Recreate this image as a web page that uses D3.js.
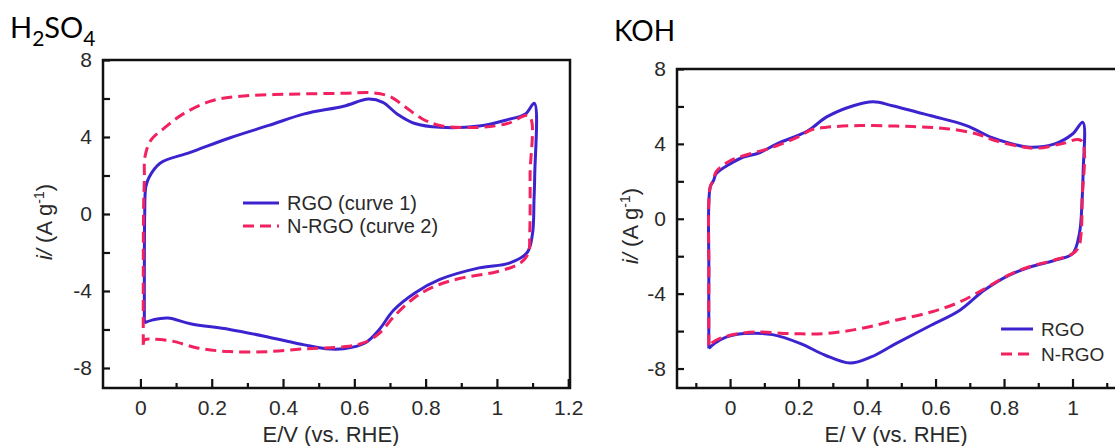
<!DOCTYPE html>
<html>
<head>
<meta charset="utf-8">
<script src="https://cdn.jsdelivr.net/npm/d3@7"></script>
<style>
  html, body { margin: 0; padding: 0; background: #fff; }
  svg { display: block; }
  .tick text { font-family: "Liberation Sans", Arial, sans-serif; fill: #2a2a2a; }
</style>
</head>
<body>
<svg id="chart" width="1115" height="446"></svg>
<script>
// ---------------- DATA ----------------
// H2SO4 panel: RGO (curve 1)
const h2so4RgoE = [0.011, 0.011, 0.012, 0.015, 0.024, 0.056, 0.14, 0.25, 0.36, 0.46, 0.57, 0.64, 0.68, 0.72, 0.77, 0.84, 0.95, 1.03, 1.08, 1.105, 1.106, 1.104, 1.10, 1.085, 1.035, 0.95, 0.84, 0.77, 0.71, 0.67, 0.63, 0.57, 0.52, 0.46, 0.36, 0.25, 0.14, 0.077, 0.035, 0.011];
const h2so4RgoI = [-5.66, -3.0, 0.0, 1.4, 1.9, 2.65, 3.2, 3.95, 4.6, 5.2, 5.6, 5.97, 5.8, 5.2, 4.7, 4.5, 4.57, 4.9, 5.2, 5.75, 2.0, 0.7, -1.0, -2.0, -2.55, -2.8, -3.4, -4.1, -5.0, -6.0, -6.7, -7.0, -7.0, -6.8, -6.4, -6.0, -5.7, -5.4, -5.5, -5.65];
// H2SO4 panel: N-RGO (curve 2)
const h2so4NrgoE = [0.008, 0.008, 0.009, 0.011, 0.013, 0.03, 0.066, 0.12, 0.195, 0.27, 0.41, 0.57, 0.65, 0.70, 0.74, 0.79, 0.84, 0.95, 1.03, 1.09, 1.093, 1.092, 1.088, 1.066, 1.0, 0.895, 0.82, 0.765, 0.71, 0.67, 0.625, 0.57, 0.465, 0.357, 0.25, 0.163, 0.088, 0.035, 0.011, 0.008];
const h2so4NrgoI = [-6.8, -3.0, 0.5, 1.77, 3.0, 3.85, 4.45, 5.2, 5.85, 6.1, 6.22, 6.27, 6.3, 6.1, 5.6, 4.95, 4.6, 4.5, 4.7, 5.1, 2.0, -1.0, -2.05, -2.55, -3.0, -3.35, -3.8, -4.4, -5.35, -6.2, -6.7, -6.9, -7.0, -7.15, -7.15, -6.97, -6.6, -6.5, -6.55, -6.8];
// KOH panel: RGO
const kohRgoE = [-0.062, -0.062, -0.058, -0.048, -0.041, 0.0, 0.039, 0.082, 0.137, 0.227, 0.282, 0.36, 0.418, 0.474, 0.587, 0.69, 0.763, 0.824, 0.876, 0.948, 1.0, 1.03, 1.031, 1.028, 1.02, 1.0, 0.948, 0.876, 0.814, 0.742, 0.67, 0.587, 0.484, 0.412, 0.35, 0.278, 0.206, 0.124, 0.041, -0.01, -0.046, -0.062];
const kohRgoI = [-6.93, -3.0, 1.69, 2.05, 2.4, 2.93, 3.3, 3.5, 4.0, 4.7, 5.44, 6.04, 6.25, 6.04, 5.5, 4.98, 4.35, 4.0, 3.82, 4.0, 4.53, 5.15, 2.5, 0.98, -0.8, -1.87, -2.22, -2.58, -3.02, -3.82, -4.9, -5.69, -6.67, -7.38, -7.71, -7.29, -6.67, -6.19, -6.13, -6.31, -6.67, -6.93];
// KOH panel: N-RGO
const kohNrgoE = [-0.062, -0.062, -0.058, -0.048, -0.041, 0.0, 0.124, 0.206, 0.234, 0.278, 0.38, 0.484, 0.56, 0.639, 0.721, 0.773, 0.845, 0.897, 0.968, 1.025, 1.028, 1.025, 1.018, 1.0, 0.948, 0.876, 0.814, 0.742, 0.67, 0.587, 0.484, 0.38, 0.278, 0.175, 0.072, 0.0, -0.041, -0.062];
const kohNrgoI = [-6.76, -3.0, 1.69, 2.1, 2.5, 3.1, 3.82, 4.44, 4.73, 4.88, 4.98, 4.95, 4.9, 4.8, 4.53, 4.18, 3.87, 3.77, 4.0, 4.18, 1.0, -0.8, -1.5, -1.87, -2.2, -2.55, -3.0, -3.75, -4.45, -4.98, -5.42, -5.87, -6.13, -6.13, -6.05, -6.22, -6.49, -6.76];

// tick labels / legend labels
const yTickValues = [-8, -4, 0, 4, 8];
const yTickLabels = ["-8", "-4", "0", "4", "8"];
const yMinorTicks = [-8, -6, -4, -2, 0, 2, 4, 6, 8];
const h2so4XTicks = [0, 0.2, 0.4, 0.6, 0.8, 1, 1.2];
const h2so4XLabels = ["0", "0.2", "0.4", "0.6", "0.8", "1", "1.2"];
const h2so4XMinor = [0.1, 0.3, 0.5, 0.7, 0.9, 1.1];
const kohXTicks = [0, 0.2, 0.4, 0.6, 0.8, 1];
const kohXLabels = ["0", "0.2", "0.4", "0.6", "0.8", "1"];
const kohXMinor = [-0.1, 0.1, 0.3, 0.5, 0.7, 0.9, 1.1];
const h2so4Legend = ["RGO (curve 1)", "N-RGO (curve 2)"];
const kohLegend = ["RGO", "N-RGO"];

// ---------------- STYLE ----------------
const BLUE = "#3b24cf";
const PINK = "#f2215f";
const FONT = "Liberation Sans, Arial, sans-serif";
const svg = d3.select("#chart");

function zip(E, I) { return E.map((e, k) => [e, I[k]]); }

function panel(opts) {
  const x = d3.scaleLinear().domain(opts.xDomain).range([opts.x0, opts.x1]);
  const y = d3.scaleLinear().domain(opts.yDomain).range([opts.y1, opts.y0]);
  const g = svg.append("g");

  // curves
  const line = d3.line().x(d => x(d[0])).y(d => y(d[1])).curve(d3.curveCatmullRom.alpha(0.5));
  g.append("path").datum(zip(opts.blueE, opts.blueI))
    .attr("d", line).attr("fill", "none").attr("stroke", BLUE)
    .attr("stroke-width", 3).attr("stroke-linejoin", "round");
  g.append("path").datum(zip(opts.pinkE, opts.pinkI))
    .attr("d", line).attr("fill", "none").attr("stroke", PINK)
    .attr("stroke-width", 3).attr("stroke-dasharray", "11,6");

  // bottom axis major
  const bx = g.append("g").attr("transform", `translate(0,${opts.y1})`)
    .call(d3.axisBottom(x).tickValues(opts.xTicks).tickSize(-9).tickPadding(12)
      .tickFormat((d, k) => opts.xLabels[k]));
  bx.select(".domain").remove();
  bx.selectAll("line").attr("stroke", "#111").attr("stroke-width", 2.2);
  bx.selectAll("text").attr("font-size", 21).attr("dy", "0.71em");
  // bottom axis minor
  const bm = g.append("g").attr("transform", `translate(0,${opts.y1})`)
    .call(d3.axisBottom(x).tickValues(opts.xMinor).tickSize(-5).tickFormat(""));
  bm.select(".domain").remove();
  bm.selectAll("line").attr("stroke", "#111").attr("stroke-width", 2.2);

  // left axis
  const lm = g.append("g").attr("transform", `translate(${opts.x0},0)`)
    .call(d3.axisLeft(y).tickValues(yMinorTicks).tickSize(-7).tickFormat(""));
  lm.select(".domain").remove();
  lm.selectAll("line").attr("stroke", "#111").attr("stroke-width", 2.2);
  const ly = g.append("g").attr("transform", `translate(${opts.x0},0)`)
    .call(d3.axisLeft(y).tickValues(yTickValues).tickSize(0).tickPadding(11)
      .tickFormat((d, k) => yTickLabels[k]));
  ly.select(".domain").remove();
  ly.selectAll("text").attr("font-size", 21);

  // frame
  g.append("rect").attr("x", opts.x0).attr("y", opts.y0)
    .attr("width", opts.x1 - opts.x0).attr("height", opts.y1 - opts.y0)
    .attr("fill", "none").attr("stroke", "#111").attr("stroke-width", 2.5);

  // axis titles
  g.append("text").attr("x", opts.xTitleX).attr("y", 442)
    .attr("text-anchor", "middle").attr("font-family", FONT)
    .attr("font-size", 22).attr("fill", "#2a2a2a").text(opts.xTitle);
  const yt = g.append("text")
    .attr("transform", `translate(${opts.yTitleX},${opts.yTitleY}) rotate(-90)`)
    .attr("text-anchor", "middle").attr("font-family", FONT)
    .attr("font-size", 22).attr("fill", "#2a2a2a");
  yt.append("tspan").attr("font-style", "italic").text("i/");
  yt.append("tspan").text(" (A g");
  yt.append("tspan").attr("font-size", 14).attr("dy", -8).text("-1");
  yt.append("tspan").attr("dy", 8).text(")");

  // legend
  const lg = g.append("g");
  opts.legend.forEach((lab, k) => {
    const ly0 = opts.legY + k * opts.legDy;
    lg.append("line").attr("x1", opts.legX).attr("x2", opts.legX + opts.legLen)
      .attr("y1", ly0).attr("y2", ly0)
      .attr("stroke", k === 0 ? BLUE : PINK).attr("stroke-width", 3)
      .attr("stroke-dasharray", k === 0 ? null : "11,6");
    lg.append("text").attr("x", opts.legX + opts.legLen + 8).attr("y", ly0)
      .attr("dy", "0.36em").attr("font-family", FONT)
      .attr("font-size", opts.legFont).attr("fill", "#2a2a2a").text(lab);
  });
}

panel({
  x0: 103, x1: 570, y0: 60, y1: 388,
  xDomain: [-0.105, 1.205], yDomain: [-9.04, 8],
  blueE: h2so4RgoE, blueI: h2so4RgoI, pinkE: h2so4NrgoE, pinkI: h2so4NrgoI,
  xTicks: h2so4XTicks, xLabels: h2so4XLabels, xMinor: h2so4XMinor,
  xTitle: "E/V (vs. RHE)", xTitleX: 331, yTitleX: 52, yTitleY: 222,
  legend: h2so4Legend, legX: 243, legY: 203, legDy: 23, legLen: 36, legFont: 20
});

panel({
  x0: 677, x1: 1141, y0: 69, y1: 388,
  xDomain: [-0.155, 1.2], yDomain: [-9.04, 8],
  blueE: kohRgoE, blueI: kohRgoI, pinkE: kohNrgoE, pinkI: kohNrgoI,
  xTicks: kohXTicks, xLabels: kohXLabels, xMinor: kohXMinor,
  xTitle: "E/ V (vs. RHE)", xTitleX: 896, yTitleX: 638, yTitleY: 226,
  legend: kohLegend, legX: 1001, legY: 329, legDy: 25, legLen: 32, legFont: 19
});

// panel titles
const t1 = svg.append("text").attr("x", 10).attr("y", 38)
  .attr("font-family", "Lato, 'Open Sans', sans-serif").attr("font-size", 29).attr("fill", "#000");
t1.append("tspan").text("H");
t1.append("tspan").attr("font-size", 21).attr("dy", 8).text("2");
t1.append("tspan").attr("dy", -8).text("SO");
t1.append("tspan").attr("font-size", 21).attr("dy", 8).text("4");
svg.append("text").attr("x", 614).attr("y", 41)
  .attr("font-family", "Lato, 'Open Sans', sans-serif").attr("font-size", 28).attr("fill", "#000")
  .text("KOH");
</script>
</body>
</html>
